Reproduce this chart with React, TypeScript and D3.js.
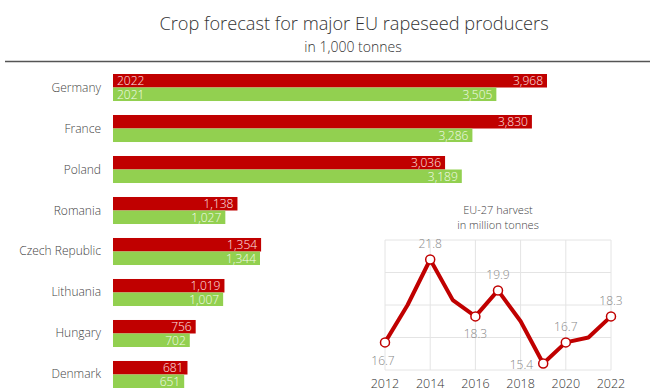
import React from "react";
import * as d3 from "d3";

const countries = ["Germany", "France", "Poland", "Romania", "Czech Republic", "Lithuania", "Hungary", "Denmark"];
const crop2022 = [3968, 3830, 3036, 1138, 1354, 1019, 756, 681];
const crop2021 = [3505, 3286, 3189, 1027, 1344, 1007, 702, 651];
const seriesNames = ["2022", "2021"];

const harvestYears = [2012, 2013, 2014, 2015, 2016, 2017, 2018, 2019, 2020, 2021, 2022];
const harvestValues = [16.7, 19.0, 21.8, 19.3, 18.3, 19.9, 18.0, 15.4, 16.7, 17.0, 18.3];
const markedYears = [2012, 2014, 2016, 2017, 2019, 2020, 2022];
const yearTicks = [2012, 2014, 2016, 2018, 2020, 2022];
const valueGrid = [15, 17, 19, 21, 23];

const RED = "#c00000";
const GREEN = "#92d050";
const FONT = "'Open Sans', 'Noto Sans', sans-serif";
const fmt = d3.format(",");

export default function App() {
  const W = 650, H = 392;
  const x = d3.scaleLinear().domain([0, 4000]).range([113, 550.5]);
  const y = d3.scaleBand().domain(countries).range([74, 388]).paddingInner(0.341).paddingOuter(0);
  const sub = d3.scaleBand().domain(seriesNames).range([0, y.bandwidth()]).padding(0);

  const lx = d3.scaleLinear().domain([2012, 2022]).range([385, 611]);
  const ly = d3.scaleLinear().domain([15, 23]).range([370, 240]);
  const line = d3.line<number>().x((_, i) => lx(harvestYears[i])).y((d) => ly(d));

  // label placement per marked year (style only)
  const place: Record<number, { dx: number; dy: number; anchor: string }> = {
    2012: { dx: -2, dy: 23, anchor: "middle" },
    2014: { dx: 0, dy: -12, anchor: "middle" },
    2016: { dx: 0, dy: 22, anchor: "middle" },
    2017: { dx: 0, dy: -11, anchor: "middle" },
    2019: { dx: -10, dy: 5, anchor: "end" },
    2020: { dx: 0, dy: -11, anchor: "middle" },
    2022: { dx: 0, dy: -11, anchor: "middle" },
  };

  return (
    <svg width={W} height={H} style={{ position: "absolute", left: 0, top: 0, display: "block", background: "#fff" }} fontFamily={FONT}>
      <text x={354} y={30} textAnchor="middle" fontSize={18.2} fontWeight={300} fill="#333">
        Crop forecast for major EU rapeseed producers
      </text>
      <text x={353} y={52} textAnchor="middle" fontSize={14} fontWeight={300} fill="#333">
        in 1,000 tonnes
      </text>
      <line x1={5} x2={650} y1={61.5} y2={61.5} stroke="#555" strokeWidth={1.5} />

      {countries.map((c, i) => {
        const top = y(c)!;
        const vals = [crop2022[i], crop2021[i]];
        return (
          <g key={c}>
            <text x={101} y={top + y.bandwidth() / 2 + 4} textAnchor="end" fontSize={12} fontWeight={300} fill="#444">
              {c}
            </text>
            {seriesNames.map((s, j) => {
              const by = top + sub(s)!;
              const v = vals[j];
              return (
                <g key={s}>
                  <rect x={x(0)} y={by} width={x(v) - x(0)} height={sub.bandwidth()} fill={j === 0 ? RED : GREEN} />
                  <text x={x(v) - 4} y={by + sub.bandwidth() / 2 + 4.3} textAnchor="end" fontSize={12} fontWeight={300} fill={j === 0 ? "#ffe8e8" : "#f4fbea"}>
                    {fmt(v)}
                  </text>
                  {i === 0 && (
                    <text x={x(0) + 4} y={by + sub.bandwidth() / 2 + 4.3} fontSize={12} fontWeight={300} fill={j === 0 ? "#ffe8e8" : "#f4fbea"}>
                      {s}
                    </text>
                  )}
                </g>
              );
            })}
          </g>
        );
      })}

      <text x={498} y={214} textAnchor="middle" fontSize={11} fontWeight={300} fill="#444">EU-27 harvest</text>
      <text x={498} y={229} textAnchor="middle" fontSize={11} fontWeight={300} fill="#444">in million tonnes</text>
      {valueGrid.map((v) => (
        <line key={v} x1={lx(2012)} x2={lx(2022)} y1={ly(v)} y2={ly(v)} stroke="#e4e4e4" strokeWidth={1} />
      ))}
      {yearTicks.map((t) => (
        <line key={t} x1={lx(t)} x2={lx(t)} y1={ly(23)} y2={ly(15)} stroke="#e4e4e4" strokeWidth={1} />
      ))}
      {yearTicks.map((t) => (
        <text key={t} x={lx(t)} y={388} textAnchor="middle" fontSize={12.5} fontWeight={300} fill="#333">{t}</text>
      ))}
      <path d={line(harvestValues) || ""} fill="none" stroke={RED} strokeWidth={4} strokeLinejoin="round" strokeLinecap="round" />
      {markedYears.map((yr) => {
        const i = harvestYears.indexOf(yr);
        const v = harvestValues[i];
        const p = place[yr];
        return (
          <g key={yr}>
            <circle cx={lx(yr)} cy={ly(v)} r={4.5} fill="#fff" stroke={RED} strokeWidth={1.5} />
            <text x={lx(yr) + p.dx} y={ly(v) + p.dy} textAnchor={p.anchor} fontSize={12} fontWeight={300} fill="#888">
              {v.toFixed(1)}
            </text>
          </g>
        );
      })}
    </svg>
  );
}
